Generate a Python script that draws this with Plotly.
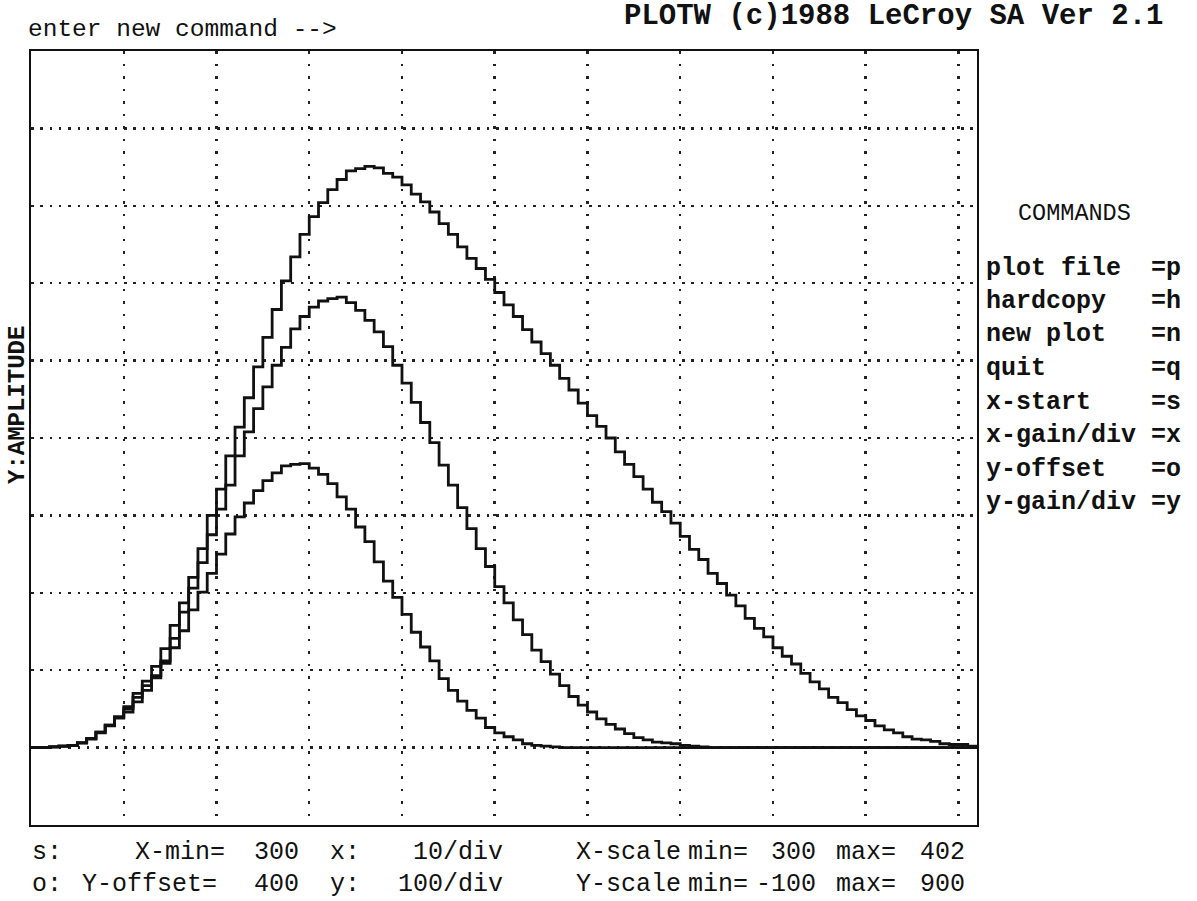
import plotly.graph_objects as go

# ---------------- data ----------------
x_start = 300
x_end = 402
bin_edges = list(range(300, 403))  # integer bins 300..401, right edge 402

series_a = [0, 0, 1, 2, 3, 6, 12, 20, 29, 40,
            53, 70, 86, 105, 128, 158, 187, 220, 257, 300,
            334, 377, 414, 452, 492, 530, 566, 603, 634, 663,
            686, 704, 721, 734, 745, 748, 751, 749, 742, 737,
            727, 715, 705, 692, 677, 663, 647, 632, 619, 605,
            588, 572, 557, 540, 524, 509, 494, 477, 462, 445,
            429, 415, 400, 382, 366, 350, 334, 317, 305, 290,
            273, 256, 243, 225, 212, 197, 183, 167, 154, 143,
            129, 118, 108, 96, 85, 76, 65, 58, 49, 41,
            35, 28, 23, 19, 14, 11, 10, 8, 5, 4,
            4, 2]

series_b = [0, 0, 1, 2, 3, 6, 12, 20, 29, 39,
            50, 65, 80, 93, 112, 141, 175, 206, 239, 275,
            308, 339, 377, 408, 438, 466, 494, 517, 541, 557,
            569, 577, 580, 582, 575, 565, 552, 537, 518, 494,
            471, 446, 420, 394, 365, 339, 310, 283, 257, 234,
            208, 187, 165, 146, 126, 111, 95, 80, 66, 55,
            46, 37, 30, 24, 18, 13, 10, 7, 6, 5,
            3, 2, 1, 0, 0, 0, 0, 0, 0, 0,
            0, 0, 0, 0, 0, 0, 0, 0, 0, 0,
            0, 0, 0, 0, 0, 0, 0, 0, 0, 0,
            0, 0]

series_c = [0, 0, 1, 2, 3, 6, 11, 19, 28, 38,
            46, 59, 74, 90, 109, 129, 151, 178, 201, 225,
            250, 276, 298, 316, 332, 345, 355, 364, 366, 367,
            361, 353, 341, 324, 308, 285, 266, 240, 215, 194,
            172, 149, 130, 112, 89, 74, 60, 48, 38, 26,
            19, 14, 10, 5, 3, 2, 1, 0, 0, 0,
            0, 0, 0, 0, 0, 0, 0, 0, 0, 0,
            0, 0, 0, 0, 0, 0, 0, 0, 0, 0,
            0, 0, 0, 0, 0, 0, 0, 0, 0, 0,
            0, 0, 0, 0, 0, 0, 0, 0, 0, 0,
            0, 0]

y_min = -100
y_max = 900
x_div = 10
y_div = 100

header_left = "enter new command -->"
header_right = "PLOTW (c)1988 LeCroy SA Ver 2.1"
y_title = "Y:AMPLITUDE"
commands_title = "COMMANDS"
commands = ["plot file  =p", "hardcopy   =h", "new plot   =n", "quit       =q",
            "x-start    =s", "x-gain/div =x", "y-offset   =o", "y-gain/div =y"]
# (text, anchor, x position in px)
status_line1 = [("s:", "left", 30), ("X-min=", "left", 133), ("300", "right", 301),
                ("x:", "left", 328), ("10/div", "right", 505), ("X-scale", "left", 574),
                ("min=", "left", 686), ("300", "right", 818), ("max=", "left", 834),
                ("402", "right", 967)]
status_line2 = [("o:", "left", 30), ("Y-offset=", "left", 80), ("400", "right", 301),
                ("y:", "left", 328), ("100/div", "right", 505), ("Y-scale", "left", 574),
                ("min=", "left", 686), ("-100", "right", 818), ("max=", "left", 834),
                ("900", "right", 967)]

# ---------------- layout geometry ----------------
W, H = 1197, 901
L, R, T, B = 31, 977, 51, 825


def px(x):
    return (x - L) / (R - L)


def py(y):
    return (B - y) / (B - T)


fig = go.Figure()

for vals in (series_c, series_b, series_a):
    xs = bin_edges[:-1] + [bin_edges[-1]]
    ys = list(vals) + [vals[-1]]
    fig.add_trace(go.Scatter(x=xs, y=ys, mode="lines", line_shape="hv",
                             line=dict(color="#111111", width=2.8),
                             hoverinfo="skip", showlegend=False))

fig.update_xaxes(range=[x_start, x_end], tick0=x_start, dtick=x_div,
                 showticklabels=False, ticks="", showgrid=True,
                 gridcolor="#222222", gridwidth=2.5, griddash="2.5px,10px",
                 zeroline=False, showline=True, mirror=True,
                 linecolor="#111111", linewidth=2)
fig.update_yaxes(range=[y_min, y_max], tick0=y_min, dtick=y_div,
                 showticklabels=False, ticks="", showgrid=True,
                 gridcolor="#222222", gridwidth=2.5, griddash="2.5px,6.8px",
                 zeroline=False, showline=True, mirror=True,
                 linecolor="#111111", linewidth=2)

annotations = []


def add_text(text, x, y, size, bold=False, family="Liberation Mono",
             xanchor="left", angle=0):
    t = f"<b>{text}</b>" if bold else text
    annotations.append(dict(text=t, x=px(x), y=py(y), xref="paper", yref="paper",
                            xanchor=xanchor, yanchor="middle", showarrow=False,
                            textangle=angle,
                            font=dict(family=family, size=size, color="#111111")))


add_text(header_left, 26, 30, 24.5)
add_text(header_right, 622, 16, 29, bold=True)
add_text(y_title, 17, 405, 24, bold=True, xanchor="center", angle=-90)
add_text(commands_title, 1016, 213, 23.5)
for i, c in enumerate(commands):
    add_text(c, 984, 268 + i * 33.5, 25, bold=True)
for txt, anc, x in status_line1:
    add_text(txt, x, 852, 25, xanchor=anc)
for txt, anc, x in status_line2:
    add_text(txt, x, 884, 25, xanchor=anc)

fig.update_layout(width=W, height=H, margin=dict(l=L, r=W - R, t=T, b=H - B),
                  paper_bgcolor="white", plot_bgcolor="white",
                  annotations=annotations, showlegend=False)

fig.write_html("out.html", config={"displayModeBar": False, "staticPlot": True},
               post_script="document.body.style.margin='0px';")
